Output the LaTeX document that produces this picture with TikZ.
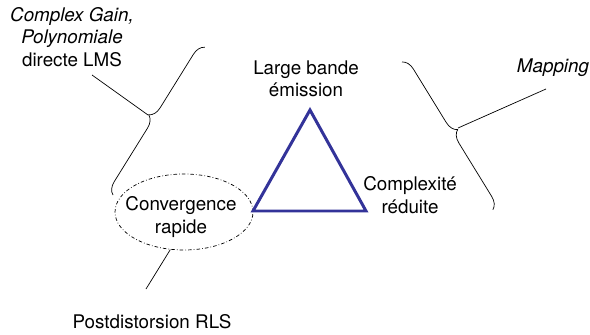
\documentclass[tikz,border=0pt]{standalone}
\usepackage{fontspec}
\setmainfont{TeX Gyre Heros}
\usepackage{xcolor}
\usetikzlibrary{shapes,decorations.pathreplacing,calc}
\definecolor{triblue}{RGB}{51,51,153}

\begin{document}
\begin{tikzpicture}[
    x=0.02cm, y=-0.02cm,
    every node/.style={font=\fontsize{10.7}{12.8}\selectfont, align=center},
    fork/.style={decorate, decoration={brace, amplitude=0.24cm}},
    conv/.style={ellipse, draw, dash pattern=on 2pt off 1.2pt on 0.4pt off 1.2pt,
        minimum width=2.76cm, minimum height=1.52cm, inner sep=0pt},
    tri/.style={draw=triblue, line width=1.7pt, line join=miter}
]
\useasboundingbox (0,0) rectangle (590,334);

% labels
\node (gain) at (72,37) {\textit{Complex Gain,}\\ \textit{Polynomiale}\\ directe LMS};
\node (large) at (306,79) {Large bande\\ émission};
\node (cplx) at (410,195) {Complexité\\ réduite};
\node (map) at (553,68) {\textit{Mapping}};
\node[conv] (conv) at (184,212) {};
\node (convtxt) at (181,217) {Convergence\\ rapide};
\node (post) at (152,322) {Postdistorsion RLS};

% triangle
\coordinate (top) at (310,110);
\coordinate (bl) at (253,211);
\coordinate (br) at (366,211);
\draw[tri] (top) -- (bl) -- (br) -- cycle;

% braces
\coordinate (lbot) at (113,195);
\coordinate (ltop) at (205,47);
\coordinate (lfork) at (148,115);
\coordinate (lend) at (92,75);
\draw[fork] (lbot) -- (ltop);
\draw (lfork) -- (lend);

\coordinate (rtop) at (402,62);
\coordinate (rbot) at (493,210);
\coordinate (rfork) at (458,128);
\coordinate (rend) at (546,89);
\draw[fork] (rtop) -- (rbot);
\draw (rfork) -- (rend);

\coordinate (pend) at (146,289);
\draw (conv.250) -- (pend);
\end{tikzpicture}
\end{document}
